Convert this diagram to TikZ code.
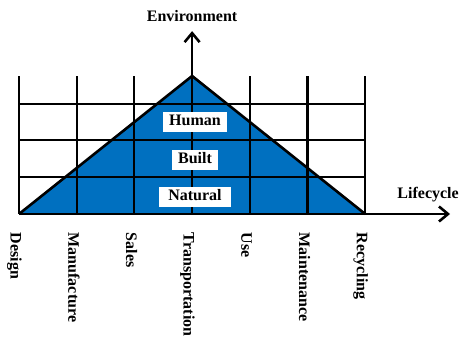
\documentclass[tikz,border=0pt]{standalone}
\usepackage{fontspec}
\setmainfont{Liberation Serif}
\usetikzlibrary{arrows.meta,positioning}
\definecolor{envblue}{RGB}{0,112,192}

\begin{document}
\begin{tikzpicture}[x=57.7pt, y=36.8pt, node distance={37.5pt}, line width=2.1pt,
    font=\bfseries\fontsize{16}{19}\selectfont,
    layer/.style = {fill=white, inner xsep=6pt, inner ysep=2.75pt, text height=11pt, text depth=3.5pt},
    stage/.style = {rotate=-90, anchor=west, inner sep=0pt, text height=11pt, text depth=3.5pt},
    axis/.style = {line width=2.6pt, -{Straight Barb[length=9pt, width=15pt]}}]
      \useasboundingbox (-19pt,-123pt) rectangle (442pt,214pt);

      \coordinate (o) at (0,0);
      \coordinate (top) at (3,3.75);
      \coordinate (end) at (6,0);
      \coordinate (base) at (3,0);
      \coordinate (ytip) at (3,4.97);
      \coordinate (xtip) at (7.47,0);

      \fill[envblue] (o) -- (top) -- (end) -- cycle;

      % grid
      \draw (0,0) -- (0,3.75);
      \draw (1,0) -- (1,3.75);
      \draw (2,0) -- (2,3.75);
      \draw (3,0) -- (3,3.75);
      \draw (4,0) -- (4,3.75);
      \draw (5,0) -- (5,3.75);
      \draw (6,0) -- (6,3.75);
      \draw (0,1) -- (6,1);
      \draw (0,2) -- (6,2);
      \draw (0,3) -- (6,3);

      \draw[line width=2.6pt] (o) -- (top) -- (end);

      \draw[axis] (o) -- (xtip);
      \draw[axis] (base) -- (ytip);

      \node (env) [above=5pt of ytip] {Environment};
      \node (life) [anchor=base east, inner sep=0pt] at (7.64,0.41) {Lifecycle};

      \node[layer] (built) at (3.05,1.48) {Built};
      \node[layer] (human) [above of=built] {Human};
      \node[layer, inner xsep=9pt] (natural) [below of=built] {Natural};

      \node[stage] (design) at (-0.08,-0.48) {Design};
      \node[stage] (manufacture) at (0.92,-0.48) {Manufacture};
      \node[stage] (sales) at (1.92,-0.48) {Sales};
      \node[stage] (transport) at (2.92,-0.48) {Transportation};
      \node[stage] (use) at (3.92,-0.48) {Use};
      \node[stage] (maintenance) at (4.92,-0.48) {Maintenance};
      \node[stage] (recycling) at (5.92,-0.48) {Recycling};
    \end{tikzpicture}
\end{document}
